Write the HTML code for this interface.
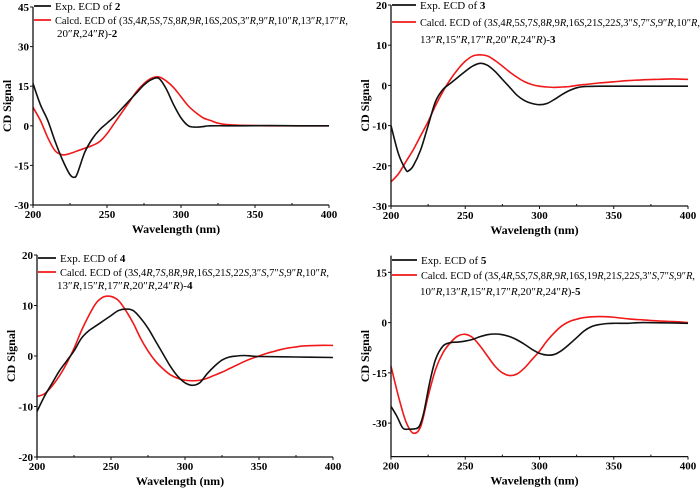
<!DOCTYPE html>
<html><head><meta charset="utf-8"><style>
html,body{margin:0;padding:0;background:#fff;}
svg{display:block;font-family:"Liberation Serif",serif;}
</style></head><body>
<svg id="c" width="700" height="493" viewBox="0 0 700 493" xmlns="http://www.w3.org/2000/svg"></svg>
<script>
// Panel 1 (compound 2)
const wl2e=[200,205,210,215,220,225,228,230,235,240,245,250,255,260,265,270,275,280,285,290,295,300,305,310,315,320,340,360,380,400];
const exp2=[16,8,2,-6,-13,-18.5,-19.5,-18,-10,-5,-1.5,1,3.5,6.5,9.5,12.5,15.5,17.5,18,14,8,3,0,-0.5,-0.3,0,0,0.1,0,0];
const wl2c=[200,205,210,215,220,225,230,235,240,245,250,255,260,265,270,275,280,285,290,295,300,305,310,315,320,325,330,340,360,380,400];
const calc2=[7,2,-4.5,-9.5,-11,-10.5,-9.5,-8.5,-7.5,-6,-3,1,5,9,13,16,18,18.5,17,14.5,11,7.5,5,3,2,1,0.5,0.2,0,0,0];
// Panel 2 (compound 3)
const wl3e=[200,205,210,212,215,220,225,230,235,240,245,250,255,260,265,270,275,280,285,290,295,300,305,310,315,320,325,330,340,360,380,400];
const exp3=[-10,-17,-21,-21.2,-20,-16,-10,-4,-1,0.5,2,3.5,4.8,5.5,5,3.5,1.5,-0.5,-2.5,-3.8,-4.5,-4.8,-4.5,-3.5,-2.3,-1.3,-0.6,-0.3,-0.2,-0.2,-0.2,-0.2];
const wl3c=[200,205,210,215,220,225,230,235,240,245,250,255,260,265,270,275,280,285,290,295,300,305,310,315,320,325,330,340,350,360,370,380,390,400];
const calc3=[-24,-22,-19,-16,-12.5,-9,-5,-1.5,1.5,4,6,7.3,7.6,7.3,6.2,4.8,3.3,2,0.9,0.2,-0.2,-0.4,-0.5,-0.4,-0.3,0,0.2,0.6,0.9,1.2,1.4,1.5,1.6,1.5];
// Panel 3 (compound 4)
const wl4e=[200,205,210,215,220,225,230,235,240,245,250,255,260,265,270,275,280,285,290,295,300,305,310,315,320,325,330,335,340,345,350,375,400];
const exp4=[-11,-8,-5.5,-3,-1,1,3.5,5,6,7,8,9,9.3,9,7.5,5.5,3,0.5,-2,-4,-5.3,-5.8,-5.3,-3.5,-2,-0.8,-0.2,0,0.1,0,-0.1,-0.2,-0.3];
const wl4c=[200,205,210,215,220,225,230,235,240,245,250,255,260,265,270,275,280,285,290,295,300,305,310,315,320,325,330,335,340,345,350,355,360,365,370,375,380,390,400];
const calc4=[-8,-7.5,-6,-4,-1.5,1.5,5,8,10.5,11.7,11.8,11,9,6.5,3.5,1,-1,-2.5,-3.7,-4.4,-4.8,-4.9,-4.8,-4.4,-3.8,-3.2,-2.5,-1.8,-1.1,-0.5,0,0.5,0.9,1.3,1.6,1.8,2,2.1,2.1];
// Panel 4 (compound 5)
const wl5e=[200,204,208,212,216,219,222,226,230,235,240,245,250,255,260,265,270,275,280,285,290,295,300,305,310,315,320,325,330,335,340,345,350,360,370,400];
const exp5=[-25,-28,-31.5,-31.8,-31.7,-31,-27,-18,-11,-7,-6,-5.8,-5.5,-5,-4.2,-3.6,-3.4,-3.6,-4.2,-5.2,-6.5,-8,-9.2,-9.7,-9.5,-8.3,-6.5,-4.5,-2.5,-1.2,-0.6,-0.3,-0.2,-0.2,0,-0.2];
const wl5c=[200,205,210,215,220,225,230,235,240,245,250,255,260,265,270,275,280,285,290,295,300,305,310,315,320,325,330,340,350,360,370,380,390,400];
const calc5=[-13,-22,-29.5,-33,-31,-22,-14,-9,-6,-4,-3.5,-4.5,-7,-10,-13,-15,-15.8,-15.3,-13.5,-11,-8.5,-5.5,-3,-1,0.3,1,1.5,1.8,1.6,1.1,0.8,0.5,0.3,0];
const xTicks=[200,250,300,350,400];
const yTicks1=[-30,-15,0,15,30,45];
const yTicks2=[-30,-20,-10,0,10,20];
const yTicks3=[-20,-10,0,10,20];
const yTicks4=[-30,-15,0,15];

const NS="http://www.w3.org/2000/svg";
const svg=document.getElementById('c');
function mk(tag,attrs,parent){const e=document.createElementNS(NS,tag);for(const k in attrs)e.setAttribute(k,attrs[k]);(parent||svg).appendChild(e);return e;}

const panels=[
 {id:'panel-2',x0:33,x1:329,y0:205,y1:7,ymin:-30,ymax:45,yt:yTicks1,ex:[wl2e,exp2],ca:[wl2c,calc2],num:'2',
  ly:[6,20,33],tx:55,tl:293,
  l1:'(3<i>S</i>,4<i>R</i>,5<i>S</i>,7<i>S</i>,8<i>R</i>,9<i>R</i>,16<i>S</i>,20<i>S</i>,3″<i>R</i>,9″<i>R</i>,10″<i>R</i>,13″<i>R</i>,17″<i>R</i>,',l2:'20″<i>R</i>,24″<i>R</i>)-<b>2</b>',l2x:57},
 {id:'panel-3',x0:391,x1:688,y0:206,y1:5,ymin:-30,ymax:20,yt:yTicks2,ex:[wl3e,exp3],ca:[wl3c,calc3],num:'3',
  ly:[5,22,39],tx:420,tl:280,
  l1:'(3<i>S</i>,4<i>R</i>,5<i>S</i>,7<i>S</i>,8<i>R</i>,9<i>R</i>,16<i>S</i>,21<i>S</i>,22<i>S</i>,3″<i>S</i>,7″<i>S</i>,9″<i>R</i>,10″<i>R</i>,',l2:'13″<i>R</i>,15″<i>R</i>,17″<i>R</i>,20″<i>R</i>,24″<i>R</i>)-<b>3</b>',l2x:420},
 {id:'panel-4',x0:37,x1:333,y0:457,y1:255,ymin:-20,ymax:20,yt:yTicks3,ex:[wl4e,exp4],ca:[wl4c,calc4],num:'4',
  ly:[258,272,285],tx:60,tl:269,
  l1:'(3<i>S</i>,4<i>R</i>,7<i>S</i>,8<i>R</i>,9<i>R</i>,16<i>S</i>,21<i>S</i>,22<i>S</i>,3″<i>S</i>,7″<i>S</i>,9″<i>R</i>,10″<i>R</i>,',l2:'13″<i>R</i>,15″<i>R</i>,17″<i>R</i>,20″<i>R</i>,24″<i>R</i>)-<b>4</b>',l2x:57},
 {id:'panel-5',x0:391,x1:688,y0:456.6,y1:255.6,ymin:-40,ymax:20,yt:yTicks4,ex:[wl5e,exp5],ca:[wl5c,calc5],num:'5',
  ly:[260,275,291],tx:421,tl:274,
  l1:'(3<i>S</i>,4<i>R</i>,5<i>S</i>,7<i>S</i>,8<i>R</i>,9<i>R</i>,16<i>S</i>,19<i>R</i>,21<i>S</i>,22<i>S</i>,3″<i>S</i>,7″<i>S</i>,9″<i>R</i>,',l2:'10″<i>R</i>,13″<i>R</i>,15″<i>R</i>,17″<i>R</i>,20″<i>R</i>,24″<i>R</i>)-<b>5</b>',l2x:420}
];

function smoothPath(pts){
 let d='M'+pts[0][0].toFixed(2)+','+pts[0][1].toFixed(2);
 for(let i=0;i<pts.length-1;i++){
  const p0=pts[Math.max(0,i-1)],p1=pts[i],p2=pts[i+1],p3=pts[Math.min(pts.length-1,i+2)];
  const c1=[p1[0]+(p2[0]-p0[0])/6,p1[1]+(p2[1]-p0[1])/6];
  const c2=[p2[0]-(p3[0]-p1[0])/6,p2[1]-(p3[1]-p1[1])/6];
  d+=' C'+c1.map(v=>v.toFixed(2)).join(',')+' '+c2.map(v=>v.toFixed(2)).join(',')+' '+p2[0].toFixed(2)+','+p2[1].toFixed(2);
 }
 return d;
}
function richText(parent,x,y,html,size,len){
 const t=mk('text',{x:x,y:y,'font-size':size},parent);
 if(len){t.setAttribute('textLength',len);t.setAttribute('lengthAdjust','spacingAndGlyphs');}
 const re=/<(i|b)>(.*?)<\/\1>|([^<]+)/g;let m;
 while((m=re.exec(html))){
  const s=mk('tspan',{},t);
  if(m[1]==='i'){s.setAttribute('font-style','italic');s.textContent=m[2];}
  else if(m[1]==='b'){s.setAttribute('font-weight','bold');s.textContent=m[2];}
  else s.textContent=m[3];
 }
 return t;
}

panels.forEach(P=>{
 const g=mk('g',{});
 
 
 const sx=v=>P.x0+(v-200)/200*(P.x1-P.x0);
 const sy=v=>P.y0-(v-P.ymin)/(P.ymax-P.ymin)*(P.y0-P.y1);
 [[P.ca,'#f01818','calc-curve'],[P.ex,'#111','exp-curve']].forEach(([s,col,nm])=>{
  const pts=s[0].map((w,i)=>[sx(w),sy(s[1][i])]);
  const p=mk('path',{d:smoothPath(pts),fill:'none',stroke:col,'stroke-width':1.6,'stroke-linejoin':'round'},g);
  
  
 });
 const ax=mk('path',{d:`M${P.x0},${P.y1} V${P.y0} H${P.x1}`,fill:'none',stroke:'#111','stroke-width':1.3},g);
 
 
 xTicks.forEach(v=>{
  mk('line',{x1:sx(v),x2:sx(v),y1:P.y0,y2:P.y0+3,stroke:'#111','stroke-width':1},g);
  const t=mk('text',{x:sx(v),y:P.y0+13,'font-size':11,'font-weight':'bold','text-anchor':'middle'},g);
  t.textContent=v;
  
  
 });
 [225,275,325,375].forEach(v=>mk('line',{x1:sx(v),x2:sx(v),y1:P.y0,y2:P.y0-2,stroke:'#111','stroke-width':1},g));
 P.yt.forEach(v=>{
  mk('line',{x1:P.x0-3,x2:P.x0,y1:sy(v),y2:sy(v),stroke:'#111','stroke-width':1},g);
  const t=mk('text',{x:P.x0-4,y:sy(v)+4,'font-size':11,'font-weight':'bold','text-anchor':'end'},g);
  t.textContent=v;
  
  
 });
 const xt=mk('text',{x:(P.x0+P.x1)/2-5,y:P.y0+28,'font-size':12,'font-weight':'bold','text-anchor':'middle'},g);
 xt.textContent='Wavelength (nm)';
 
 
 const yc=(P.y0+P.y1)/2;
 const yt=mk('text',{x:0,y:0,'font-size':12,'font-weight':'bold','text-anchor':'middle',transform:`translate(${P.x0-22},${yc}) rotate(-90)`},g);
 yt.textContent='CD Signal';
 
 
 const lg=mk('g',{},g);
 
 
 mk('line',{x1:P.x0+1,x2:P.tx-4,y1:P.ly[0],y2:P.ly[0],stroke:'#111','stroke-width':1.8},lg);
 richText(lg,P.tx,P.ly[0]+4,'Exp. ECD of <b>'+P.num+'</b>',11);
 mk('line',{x1:P.x0+1,x2:P.tx-4,y1:P.ly[1],y2:P.ly[1],stroke:'#f01818','stroke-width':1.8},lg);
 richText(lg,P.tx,P.ly[1]+4,'Calcd. ECD of '+P.l1,11,P.tl);
 richText(lg,P.l2x,P.ly[2]+4,P.l2,11);
});
</script>
</body></html>
